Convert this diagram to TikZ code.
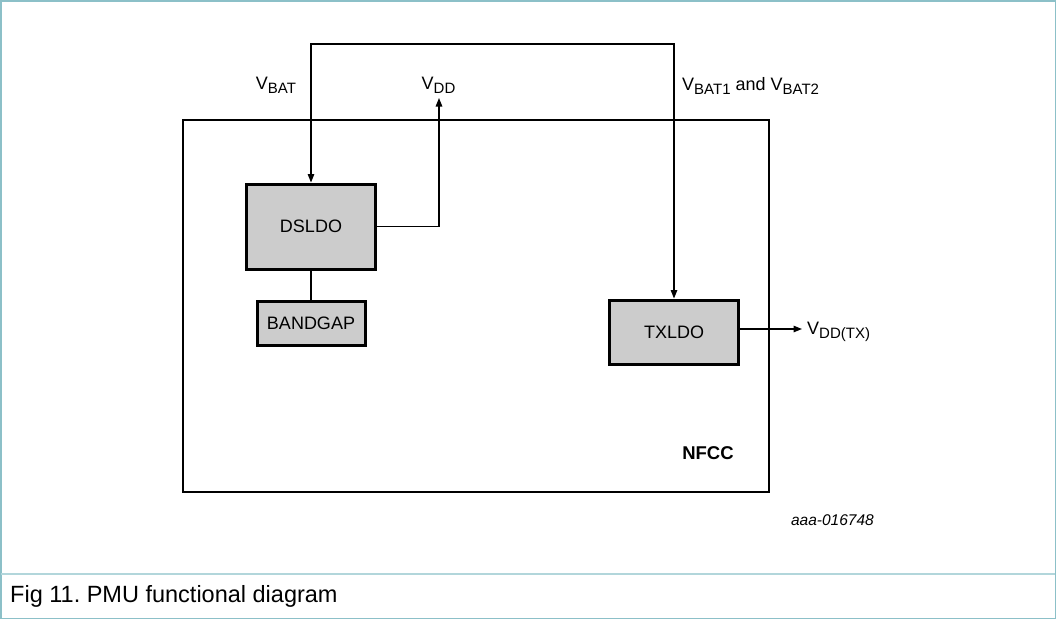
\documentclass[tikz,border=0pt]{standalone}
\usepackage{fontspec}
\setmainfont{Liberation Sans}
\usetikzlibrary{arrows.meta}
\definecolor{framecol}{RGB}{140,192,200}
\definecolor{sepcol}{RGB}{178,214,219}
\definecolor{boxgray}{RGB}{204,204,204}
\newcommand{\Vsub}[1]{V\raisebox{-0.26em}{\fontsize{15}{15}\selectfont #1}}
\frenchspacing
\begin{document}
\begin{tikzpicture}[x=1pt,y=-1pt,
  blk/.style={draw, line width=3pt, fill=boxgray, inner sep=0pt, font=\fontsize{18}{20}\selectfont},
  wire/.style={line width=1.3pt},
  arr/.style={wire, -{Triangle[length=8.5pt,width=6.5pt]}},
  lbl/.style={inner sep=0pt, font=\fontsize{18}{20}\selectfont}]
\useasboundingbox (0,0) rectangle (1056,619);
\draw[framecol, line width=1.5pt] (0.75,0.75) rectangle (1055.25,618.25);
\draw[sepcol, line width=1.5pt] (0.75,574) -- (1055.25,574);
% NFCC chip outline
\node[draw, line width=2.8pt, minimum width=586pt, minimum height=372pt, inner sep=0pt, outer sep=0pt] (nfcc) at (476,306) {};
\node[lbl, font=\bfseries\fontsize{18.5}{20}\selectfont] (nfcclbl) at (708,453) {NFCC};
% blocks
\node[blk, minimum width=129pt, minimum height=85pt] (dsldo) at (311,226.5) {DSLDO};
\node[blk, minimum width=108pt, minimum height=44pt] (bg) at (311,323) {BANDGAP};
\node[blk, minimum width=129pt, minimum height=64pt] (tx) at (674,332) {TXLDO};
% connectors
\coordinate (toprail) at (0,44);
\draw[wire, {Triangle[length=8.5pt,width=6.5pt]}-{Triangle[length=8.5pt,width=6.5pt]}]
  (dsldo.north) -- (dsldo.north |- toprail) -- (tx.north |- toprail) -- (tx.north);
\coordinate (vddtip) at (439,98);
\draw[arr] (dsldo.east) -- (vddtip |- dsldo.east) -- (vddtip);
\draw[wire] (dsldo.south) -- (bg.north);
\draw[arr] ([yshift=3pt]tx.east) -- ++(62,0) coordinate (txout);
% labels
\node[lbl, anchor=base] (vbat) at (276,89) {\Vsub{BAT}};
\node[lbl, anchor=base] (vdd) at (438.5,89) {\Vsub{DD}};
\node[lbl, anchor=base west] (vbat12) at (682,90) {\Vsub{BAT1} and \Vsub{BAT2}};
\node[lbl, anchor=base west] (vddtx) at (807,334) {\Vsub{DD(TX)}};
\node[lbl, anchor=base east, font=\itshape\fontsize{15.5}{17}\selectfont] (code) at (874,525) {aaa-016748};
\node[lbl, anchor=base west, font=\fontsize{23.5}{25}\selectfont] (caption) at (10,602) {Fig 11. PMU functional diagram};
\end{tikzpicture}
\end{document}
